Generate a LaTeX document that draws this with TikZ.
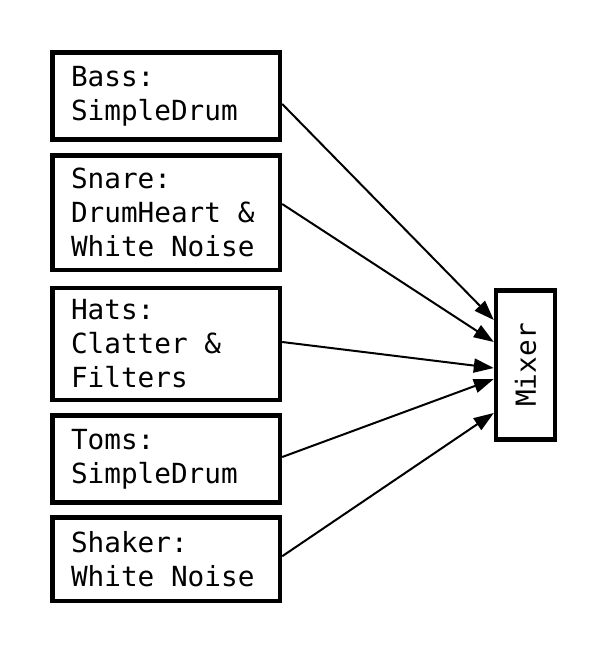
\documentclass[tikz,border=0pt]{standalone}
\usepackage{fontspec}
\setmonofont{DejaVu Sans Mono}
\newcommand\blank{\hspace{0.602em}}
\usepackage{tikz}
\usetikzlibrary{calc,arrows.meta}

\tikzset{
  voice/.style={draw, line width=2.2pt, align=left, anchor=center,
    inner xsep=9.25pt, text width=95.25pt, minimum width=113.75pt,
    font=\ttfamily\fontsize{13.85pt}{17pt}\selectfont},
  mixbox/.style={draw, line width=2.2pt, rotate=90,
    minimum width=74.5pt, minimum height=29.5pt, inner sep=0pt,
    font=\ttfamily\fontsize{13.85pt}{17pt}\selectfont},
  feed/.style={->, line width=1pt}
}

\begin{document}
\begin{tikzpicture}[x=0.5pt, y=-0.5pt, >={Triangle[length=10pt,width=7pt]}]
  \useasboundingbox (0,0) rectangle (608,659);
  % ---- the drum voices ----
  \node[voice, minimum height=43.5pt]  (bass)   at (166.25,96)    {Bass:\\SimpleDrum};
  \node[voice, minimum height=57.25pt] (snare)  at (166.25,212.75) {Snare:\\DrumHeart\blank\&\\White\blank Noise};
  \node[voice, minimum height=56pt]    (hats)   at (166.25,344)   {Hats:\\Clatter\blank\&\\Filters};
  \node[voice, minimum height=43.5pt]  (toms)   at (166.25,459)   {Toms:\\SimpleDrum};
  \node[voice, minimum height=41.75pt] (shaker) at (166.25,559.25) {Shaker:\\White\blank Noise};
  % ---- the mixer ----
  \node[mixbox] (mixer) at (525.5,365) {Mixer};
  % ---- every voice feeds the mixer ----
  \foreach \v/\s/\e in {bass/8/-45, snare/-8.75/-23, hats/-2/3, toms/-2/14, shaker/-3/48}
    \draw[feed] ($(\v.east)+(0,\s)$) -- ($(mixer.north)+(0,\e)$);
\end{tikzpicture}
\end{document}
